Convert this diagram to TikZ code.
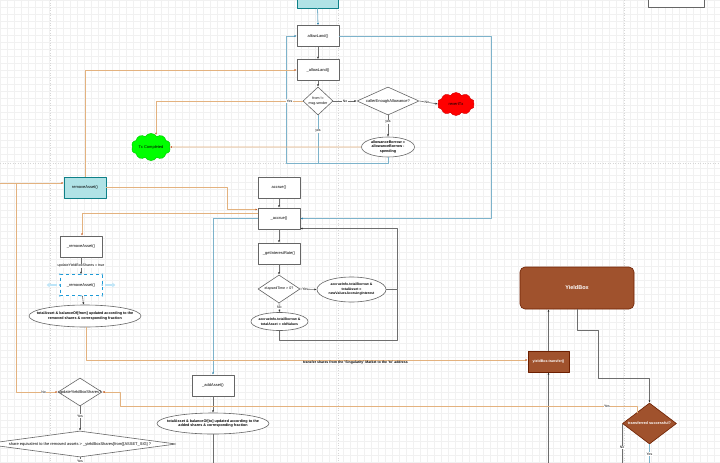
\documentclass[tikz,border=0pt]{standalone}
\usepackage{fontspec}
\setmainfont{Liberation Sans}
\usetikzlibrary{arrows.meta,shapes.geometric,shapes.symbols,calc}
\definecolor{orl}{HTML}{E3B27F}
\definecolor{ortip}{HTML}{C8602A}
\definecolor{bll}{HTML}{7DB3CB}
\definecolor{bltip}{HTML}{2A7FA8}
\definecolor{gln}{HTML}{6E6E6E}
\definecolor{boxd}{HTML}{666666}
\definecolor{cyf}{HTML}{B0E3E6}
\definecolor{cyd}{HTML}{0E8088}
\definecolor{sien}{HTML}{A0522D}
\definecolor{siend}{HTML}{6D1F00}
\definecolor{gridc}{HTML}{F1F1F1}
\definecolor{pgb}{HTML}{D6D6D6}
\definecolor{selb}{HTML}{1E9BD7}
\definecolor{hovb}{HTML}{BDE5F8}
\begin{document}
\begin{tikzpicture}[x=1pt,y=-1pt,line join=round,
  font=\fontsize{4}{4.8}\selectfont,
  box/.style={rectangle,draw=boxd,line width=0.6pt,fill=white,minimum width=42pt,minimum height=21pt,inner sep=0pt,align=center},
  cbox/.style={box,fill=cyf,draw=cyd},
  sbox/.style={box,fill=sien,draw=siend,text=white,font=\fontsize{3.6}{4.3}\selectfont\bfseries},
  dia/.style 2 args={diamond,draw=boxd,fill=white,line width=0.6pt,inner sep=0pt,minimum width=#1pt,minimum height=#2pt},
  ell/.style 2 args={ellipse,draw=boxd,fill=white,line width=0.6pt,inner sep=0pt,minimum width=#1pt,minimum height=#2pt},
  lab/.style={align=center,inner sep=0pt,font=\fontsize{4}{4.8}\selectfont},
  blab/.style={align=center,inner sep=0pt,font=\fontsize{3.7}{4.6}\selectfont\bfseries},
  cloudx/.style={cloud,cloud puffs=10,cloud puff arc=120,aspect=1.6,inner sep=0pt,line width=0.5pt},
  gl/.style={draw=gln,line width=0.6pt},
  ol/.style={draw=orl,line width=0.8pt},
  bl/.style={draw=bll,line width=0.8pt},
  gtip/.style={-{Latex[length=2.4pt,width=2pt,color=black!80]}},
  otip/.style={-{Latex[length=2.2pt,width=2pt,color=ortip]}},
  btip/.style={-{Latex[length=2.2pt,width=2pt,color=bltip]}},
  elab/.style={fill=white,inner sep=0.4pt,font=\fontsize{3.5}{4}\selectfont},
  hov/.style={draw=hovb,line width=1.5pt,-{Triangle[length=3pt,width=4.5pt]}}]
\useasboundingbox (0,0) rectangle (720,463);
\clip (0,0) rectangle (720,463);
\fill[white] (0,0) rectangle (720,463);
\draw[gridc,line width=0.3pt] (0,0) grid[step=7pt] (720,463);
% page breaks
\foreach \px in {50,338,624} \draw[pgb,line width=0.5pt,dash pattern=on 1pt off 1.5pt] (\px,0) -- (\px,463);
\draw[pgb,line width=0.5pt,dash pattern=on 1pt off 1.5pt] (0,163) -- (720,163);

% ---------- nodes ----------
\node[cbox,minimum width=41pt,minimum height=20pt] (topc) at (317.5,-2) {};
\node[box,minimum width=56pt,minimum height=17pt] (topr) at (676,-1.5) {};
\node[box] (allowLand) at (318,36) {allowLand()};
\node[box] (allowLandB) at (318,70) {\_allowLand()};
\node[dia={30}{28},label={[lab,font=\fontsize{3.6}{4.4}\selectfont]center:{from !=\\msg.sender}}] (dFrom) at (318,101) {};
\node[dia={62}{28},label={[lab]center:{callerEnoughAllowance?}}] (dCaller) at (388,101) {};
\node[cloudx,fill=red,draw=red!85!black,minimum width=37pt,minimum height=23pt] (revert) at (456,104) {revertTx};
\node[ell={53}{20},label={[blab]center:{allowanceBorrow =\\allowanceBorrow -\\spending}}] (eAllow) at (388,147) {};
\node[cloudx,fill={rgb,255:red,0;green,255;blue,0},draw={rgb,255:red,0;green,210;blue,0},minimum width=39pt,minimum height=25pt] (txc) at (151,147) {Tx Completed};
\node[cbox] (removeAsset) at (85,187.5) {removeAsset()};
\node[box] (accrue) at (279,187.5) {accrue()};
\node[box] (accrueB) at (279,218.5) {\_accrue()};
\node[box] (getIR) at (279,253.5) {\_getInterestRate()};
\node[dia={42}{28},label={[lab,font=\fontsize{3.6}{4.4}\selectfont]center:{elapsedTime > 0?}}] (dEl) at (279,289) {};
\node[ell={69}{25},label={[blab,font=\fontsize{3.5}{4.5}\selectfont\bfseries]center:{accrueInfo.totalBorrow \&\\totalAsset =\\newValuesAccruingInterest}}] (eNew) at (351.5,289.5) {};
\node[ell={57}{18},label={[blab,font=\fontsize{3.5}{4.5}\selectfont\bfseries]center:{accrueInfo.totalBorrow \&\\totalAsset = oldValues}}] (eOld) at (279.5,321.5) {};
\node[box] (rm1) at (81,246.5) {\_removeAsset()};
\node[box,draw=selb,dashed] (rm2) at (81,285) {\_removeAsset()};
\node[ell={112}{22},label={[blab]center:{totalAsset \& balanceOf[from] updated according to the\\removed shares \& corresponding fraction}}] (eRm) at (85,316) {};
\node[box] (addAsset) at (213,385.5) {\_addAsset()};
\node[ell={112}{21},label={[blab]center:{totalAsset \& balanceOf[to] updated according to the\\added shares \& corresponding fraction}}] (eAdd) at (213,423.5) {};
\node[sbox,rounded corners=5pt,minimum width=114pt,minimum height=42pt,font=\fontsize{5.5}{6.5}\selectfont\bfseries] (yb) at (577,288) {YieldBox};
\node[sbox,minimum width=41pt,minimum height=21pt] (ybt) at (548.5,361.5) {yieldBox.transfer()};
\node[dia={44}{28},label={[lab]center:{updateYieldBoxShares?}}] (dUpd) at (80,392) {};
\node[dia={192}{26},label={[lab]center:{share equivalent to the removed assets > \_yieldBoxShares[from][ASSET\_SIG] ?}}] (dShare) at (80,444) {};
\node[dia={54}{41},fill=sien,draw=siend,label={[blab,text=white,font=\fontsize{3.8}{4.6}\selectfont\bfseries]center:{transferred successful?}}] (dTr) at (649.5,423.5) {};

% selection decorations on rm2
\draw[hov] ($(rm2.west)+(-3,0)$) -- ($(rm2.west)+(-13,0)$);
\draw[hov] ($(rm2.east)+(3,0)$) -- ($(rm2.east)+(13,0)$);
\foreach \a in {north west,north,north east,east,south east,south,south west,west}
  \fill[selb!70] (rm2.\a) circle (0.9pt);

% helper coordinates
\coordinate (LB) at (286,163);
\coordinate (R1) at (491,0);
\coordinate (R2) at (397,0);
\coordinate (R3) at (397,340.5);
\coordinate (L0) at (0,183);
\coordinate (L1) at (16,183);
\coordinate (CT) at (156,135);
\coordinate (Y1) at (598,330);
\coordinate (Y2) at (649.5,378);
\coordinate (T1) at (637,412.5);
\coordinate (X1) at (120,406);
\coordinate (B1) at (548.5,470);
\coordinate (B2) at (622,470);

% ---------- connectors ----------
% top part
\draw[bl,btip] (topc.south) -- (allowLand.north);
\draw[gl,gtip] (allowLand) -- (allowLandB);
\draw[gl,gtip] (allowLandB) -- (dFrom);
\draw[gl,gtip] (dFrom.east) -- (dCaller.west) node[elab,midway] {No};
\draw[gl,gtip] (dCaller.east) -- (revert.west) node[elab,pos=0.4] {No};
\draw[gl,gtip] (dCaller.south) -- (eAllow.north) node[elab,pos=0.32] {yes};
\draw[bl,btip] (eAllow.south) |- (LB) |- (allowLand.west);
\draw[bl] (dFrom.south) -- (dFrom.south |- LB) node[elab,pos=0.33] {yes};
\draw[bl,btip] (allowLand.east) -- (allowLand.east -| R1) |- (accrueB.east);
\draw[ol,otip] (dFrom.west) -| (CT) node[elab,pos=0.045] {Yes};
\draw[ol,otip] (eAllow.west) -- (txc.east);
\draw[ol,otip] (removeAsset.north) |- (allowLandB.west);
% left / removeAsset
\draw[ol,otip] (L0) -- (L0 -| removeAsset.west);
\draw[ol,otip] (L1) |- (dUpd.west) node[elab,pos=0.83] {No};
\draw[ol,otip] (removeAsset.east) -- (227,187.5) |- ($(accrueB.west)+(0,-9)$);
\draw[ol,otip] ($(accrueB.west)+(0,-5)$) -| ($(rm1.north)+(1,0)$);
\draw[bl,btip] (accrueB.west) -| (addAsset.north);
% accrue chain
\draw[gl,gtip] (accrue) -- (accrueB);
\draw[gl,gtip] (accrueB) -- (getIR);
\draw[gl,gtip] (getIR) -- (dEl);
\draw[gl,gtip] (dEl.east) -- (eNew.west) node[elab,pos=0.3] {Yes};
\draw[gl,gtip] (dEl.south) -- (eOld.north) node[elab,pos=0.5] {No};
\draw[gl,gtip] (eNew.east) -- (eNew.east -| R2) |- ($(accrueB.east)+(0,10)$);
\draw[gl] (eOld.south) |- (R3) -- (R3 |- eNew.east);
% removeAsset chain
\draw[gl,gtip] (rm1) -- (rm2) node[midway,fill=white,inner sep=0.4pt,font=\fontsize{3.6}{4.2}\selectfont] {updateYieldBoxShares = true};
\draw[gl,gtip] (rm2) -- (eRm);
\draw[ol,otip] ($(eRm.south)+(1,0)$) |- ($(ybt.west)+(0,-1.5)$)
  node[pos=0.805,below=0.3pt,inner sep=0pt,font=\fontsize{3.5}{4.2}\selectfont\bfseries] {transfer shares from the 'Singularity' Market to the 'to' address};
% addAsset chain
\draw[gl,gtip] (addAsset) -- (eAdd);
\draw[gl] (eAdd.south) -- (eAdd.south |- B1);
% YieldBox
\draw[gl,gtip] (ybt.north) -- (ybt.north |- yb.south);
\draw[gl,gtip] (B1) -- (ybt.south);
\draw[gl,gtip] (yb.south) |- (Y1) |- (Y2) -- (dTr.north);
\draw[ol,otip] (T1) |- (X1) |- (dUpd.east);
\node[elab] (yesTr) at (607,406) {Yes};
\draw[gl] (dTr.west) -- (dTr.west |- B2) node[elab,pos=0.51] {No};
\draw[bl] (dTr.south) -- (dTr.south |- B2) node[elab,pos=0.38] {Yes};
% updateYieldBoxShares chain
\draw[gl,gtip] (dUpd.south) -- (dShare.north) node[elab,pos=0.4] {Yes};
\draw[gl] (dShare.south) -- (dShare.south |- B1) node[elab,pos=0.3] {Yes};
\end{tikzpicture}
\end{document}
